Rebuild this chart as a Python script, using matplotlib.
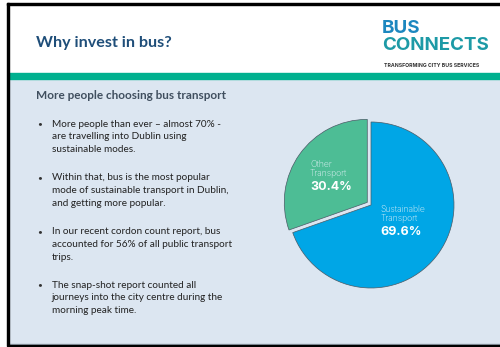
import matplotlib.pyplot as plt
from matplotlib.patches import Rectangle

# slide data
title = "Why invest in bus?"
subtitle = "More people choosing bus transport"
bullets = [
    ["More people than ever \u2013 almost 70% -", "are travelling into Dublin using", "sustainable modes."],
    ["Within that, bus is the most popular", "mode of sustainable transport in Dublin,", "and getting more popular."],
    ["In our recent cordon count report, bus", "accounted for 56% of all public transport", "trips."],
    ["The snap-shot report counted all", "journeys into the city centre during the", "morning peak time."],
]
pie_labels = [["Other", "Transport"], ["Sustainable", "Transport"]]
pie_values = [30.4, 69.6]
pie_colors = ["#4dbd95", "#00a6e6"]

W, H = 500, 347
fig = plt.figure(figsize=(W / 100, H / 100), dpi=100)
ax = fig.add_axes([0, 0, 1, 1])
ax.set_xlim(0, W)
ax.set_ylim(H, 0)
ax.axis("off")

# background blocks
ax.add_patch(Rectangle((0, 0), W, H, color="white"))
ax.add_patch(Rectangle((8, 78.5), W, 265, color="#dce6f1"))
ax.add_patch(Rectangle((8, 73), W, 5.5, color="#00b08f"))
ax.add_patch(Rectangle((8, 343.5), W, 1.5, color="#9aa6b2"))
ax.add_patch(Rectangle((8, 345), W, 3, color="black"))
ax.add_patch(Rectangle((7.3, 2.7), 2, 343, color="black"))
ax.add_patch(Rectangle((7.3, 2.7), W, 2, color="black"))

# header
ax.text(36, 43, title, fontsize=11.6, fontweight="bold", color="#1f4e79",
        family="Lato", va="center")
ax.text(382, 28, "BUS", fontsize=13.5, fontweight="bold", color="#1c87bf",
        family="Inter", va="center")
ax.text(382, 45, "CONNECTS", fontsize=13.5, fontweight="bold", color="#1d9aa6",
        family="Inter", va="center")
ax.text(384.5, 65, "TRANSFORMING CITY BUS SERVICES", fontsize=3.7, fontweight="bold",
        color="#333333", family="Inter", va="center")

# left text
ax.text(36, 95, subtitle, fontsize=8.5, fontweight="bold", color="#404f5f",
        family="Lato", va="center")
y0 = 124
for block in bullets:
    ax.text(37.5, y0, "\u2022", fontsize=6, color="#333333", family="Lato", va="center")
    for i, line in enumerate(block):
        ax.text(51.5, y0 + i * 12.8, line, fontsize=7.2, color="#222222",
                family="Lato", va="center")
    y0 += 53.7

# pie
cx, cy, r = 371, 205, 83
half = 110
pax = fig.add_axes([(cx - half) / W, (H - cy - half) / H, 2 * half / W, 2 * half / H])
wedges, _ = pax.pie(pie_values, colors=pie_colors, startangle=90, explode=[0.055, 0],
                    frame=True, wedgeprops=dict(edgecolor="#4a5a66", linewidth=0.5))
lim = half / r
pax.set_xlim(-lim, lim)
pax.set_ylim(-lim, lim)
pax.axis("off")

label_pos = [(-0.735, 0.494), (0.117, -0.052)]
for (lx, ly), lab, val in zip(label_pos, pie_labels, pie_values):
    for i, word in enumerate(lab):
        pax.text(lx, ly - i * 9.5 / r, word, fontsize=6.2, color="#e3f2f8",
                 family="Inter", fontweight="light", va="center", ha="left")
    pax.text(lx, ly - 22.7 / r, f"{val}%", fontsize=9, color="white", family="Inter",
             fontweight="bold", va="center", ha="left")

fig.savefig("out.png", dpi=100)
